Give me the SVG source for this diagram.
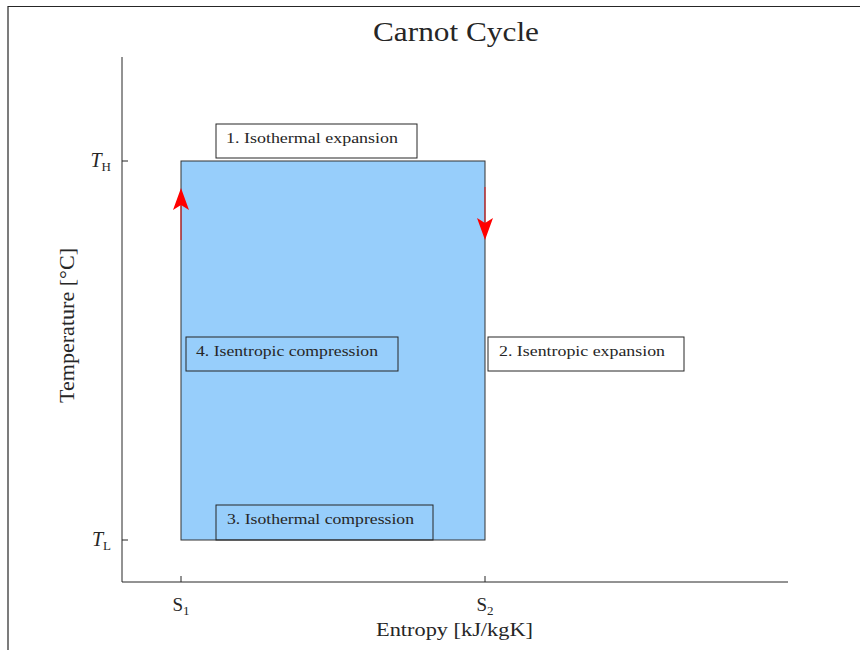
<svg xmlns="http://www.w3.org/2000/svg" width="860" height="650" viewBox="0 0 860 650">
<style>
text{font-family:"Liberation Serif","DejaVu Serif",serif;fill:#262626}
.lbl{font-size:15px}
.box{stroke:#262626;stroke-width:1}
.ax{stroke:#262626;stroke-width:1;fill:none}
.arr{stroke:#ff0000;stroke-width:1.5;stroke-opacity:0.55}
.head{fill:#ff0000}
</style>
<rect width="860" height="650" fill="#ffffff"/>
<g id="frame"><path d="M8 650 V6.5 H860" fill="none" stroke="#262626" stroke-width="1.2"/></g>
<text x="373" y="41" font-size="27" textLength="166" lengthAdjust="spacingAndGlyphs">Carnot Cycle</text>
<g id="axes">
<path class="ax" d="M122 57 V582 H788"/>
<path class="ax" d="M122 161 H128 M122 540 H128 M181 582 V576 M485 582 V576"/>
<text x="111" y="167" font-size="20" text-anchor="end"><tspan font-style="italic">T</tspan><tspan font-size="13" dy="4">H</tspan></text>
<text x="111" y="546" font-size="20" text-anchor="end"><tspan font-style="italic">T</tspan><tspan font-size="13" dy="4">L</tspan></text>
<text x="181" y="611" font-size="19" text-anchor="middle">S<tspan font-size="13" dy="4">1</tspan></text>
<text x="485" y="611" font-size="19" text-anchor="middle">S<tspan font-size="13" dy="4">2</tspan></text>
<text x="376" y="636" font-size="19" textLength="157" lengthAdjust="spacingAndGlyphs">Entropy [kJ/kgK]</text>
<text transform="translate(74 403) rotate(-90)" font-size="20" textLength="155" lengthAdjust="spacingAndGlyphs">Temperature [°C]</text>
</g>
<g id="cycle"><rect x="181" y="161" width="304" height="379" fill="#97cefb" stroke="#333333" stroke-width="1"/></g>
<g id="connectors">
<line class="arr" x1="181" y1="240" x2="181" y2="200"/>
<path class="head" d="M181 188 L189 210 L181 205 L173 210 Z"/>
<line class="arr" x1="485" y1="187" x2="485" y2="228"/>
<path class="head" d="M485 240 L477 218 L485 223 L493 218 Z"/>
</g>
<g id="n1"><rect class="box" x="216" y="124" width="201" height="34" fill="#ffffff"/><text class="lbl" x="226" y="143" textLength="172" lengthAdjust="spacingAndGlyphs">1. Isothermal expansion</text></g>
<g id="n2"><rect class="box" x="488" y="337" width="196" height="34" fill="#ffffff"/><text class="lbl" x="499" y="356" textLength="166" lengthAdjust="spacingAndGlyphs">2. Isentropic expansion</text></g>
<g id="n3"><rect class="box" x="216" y="505" width="217" height="35" fill="none"/><text class="lbl" x="227" y="524" textLength="187" lengthAdjust="spacingAndGlyphs">3. Isothermal compression</text></g>
<g id="n4"><rect class="box" x="186" y="337" width="212" height="34" fill="none"/><text class="lbl" x="196" y="356" textLength="182" lengthAdjust="spacingAndGlyphs">4. Isentropic compression</text></g>
</svg>
